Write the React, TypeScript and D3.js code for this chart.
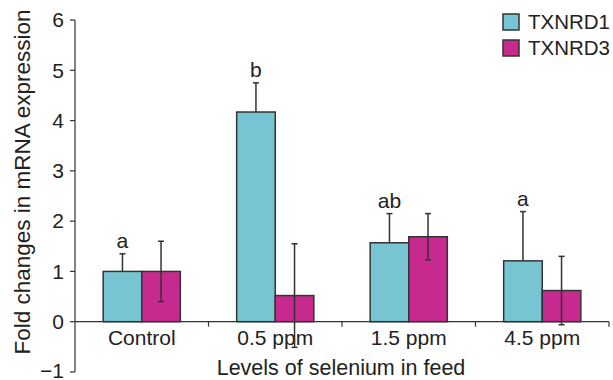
import * as d3 from "d3";

const categories = ["Control", "0.5 ppm", "1.5 ppm", "4.5 ppm"];
const seriesNames = ["TXNRD1", "TXNRD3"];
const txnrd1 = [1.0, 4.17, 1.57, 1.21];
const txnrd1Err = [0.35, 0.58, 0.58, 0.98];
const txnrd3 = [1.0, 0.52, 1.69, 0.62];
const txnrd3Err = [0.6, 1.03, 0.46, 0.68];
const letters = ["a", "b", "ab", "a"];
const yTicks = [-1, 0, 1, 2, 3, 4, 5, 6];

const COLORS = ["#77c5d2", "#c72a8f"];
const INK = "#333";
const FONT = "'Liberation Sans', Arial, sans-serif";

export default function App() {
  const width = 613;
  const height = 380;

  const y = d3.scaleLinear().domain([-1, 6]).range([372, 20]);
  const x = d3.scaleBand<string>().domain(categories).range([75, 609]).padding(0);
  const inner = d3
    .scaleBand<string>()
    .domain(seriesNames)
    .range([0, x.bandwidth()])
    .paddingInner(0)
    .paddingOuter(0.73);

  const values = [txnrd1, txnrd3];
  const errors = [txnrd1Err, txnrd3Err];
  const y0 = y(0);
  const cap = 3;

  return (
    <div style={{ position: "fixed", left: 0, top: 0 }}>
      <svg width={width} height={height} fontFamily={FONT} style={{ display: "block", background: "#fff" }}>
        {/* y axis */}
        <line x1={75} x2={75} y1={y(6)} y2={y(-1)} stroke={INK} strokeWidth={1.2} />
        {yTicks.map((t) => (
          <g key={t}>
            <line x1={70} x2={75} y1={y(t)} y2={y(t)} stroke={INK} strokeWidth={1.2} />
            <text x={64} y={y(t)} dy={t < 0 ? "0.3em" : "0.35em"} textAnchor="end" fontSize={21} fill="#222">
              {t < 0 ? `\u2212${Math.abs(t)}` : t}
            </text>
          </g>
        ))}
        <text
          transform={`translate(30,182) rotate(-90)`}
          textAnchor="middle"
          fontSize={22.5}
          fill="#222"
        >
          Fold changes in mRNA expression
        </text>

        {/* bars */}
        {categories.map((c, i) => (
          <g key={c}>
            {seriesNames.map((s, k) => {
              const bx = (x(c) ?? 0) + (inner(s) ?? 0);
              const v = values[k][i];
              return (
                <rect
                  key={s}
                  x={bx}
                  y={y(v)}
                  width={inner.bandwidth()}
                  height={y0 - y(v)}
                  fill={COLORS[k]}
                  stroke={INK}
                  strokeWidth={1.5}
                />
              );
            })}
          </g>
        ))}

        {/* x axis */}
        <line x1={75} x2={609} y1={y0} y2={y0} stroke={INK} strokeWidth={1.2} />
        {categories.map((c) => {
          const tx = (x(c) ?? 0) + x.bandwidth();
          return <line key={c} x1={tx} x2={tx} y1={y0} y2={y0 + 5} stroke={INK} strokeWidth={1.2} />;
        })}
        {categories.map((c) => (
          <text
            key={c}
            x={(x(c) ?? 0) + x.bandwidth() / 2}
            y={345}
            textAnchor="middle"
            fontSize={21}
            fill="#222"
          >
            {c}
          </text>
        ))}
        <text x={341} y={375} textAnchor="middle" fontSize={21.5} fill="#222">
          Levels of selenium in feed
        </text>

        {/* error bars */}
        {categories.map((c, i) =>
          seriesNames.map((s, k) => {
            const cx = (x(c) ?? 0) + (inner(s) ?? 0) + inner.bandwidth() / 2;
            const v = values[k][i];
            const e = errors[k][i];
            const top = y(v + e);
            const bottom = k === 0 ? y(v) : y(v - e);
            return (
              <g key={c + s} stroke={INK} strokeWidth={1.5}>
                <line x1={cx} x2={cx} y1={top} y2={bottom} />
                <line x1={cx - cap} x2={cx + cap} y1={top} y2={top} />
                {k === 1 && <line x1={cx - cap} x2={cx + cap} y1={bottom} y2={bottom} />}
              </g>
            );
          })
        )}

        {/* significance letters */}
        {categories.map((c, i) => {
          const cx = (x(c) ?? 0) + (inner(seriesNames[0]) ?? 0) + inner.bandwidth() / 2;
          return (
            <text key={c} x={cx} y={y(txnrd1[i] + txnrd1Err[i]) - 6} textAnchor="middle" fontSize={21} fill="#222">
              {letters[i]}
            </text>
          );
        })}

        {/* legend */}
        {seriesNames.map((s, k) => (
          <g key={s} transform={`translate(503,${14 + k * 26})`}>
            <rect x={0} y={0} width={16} height={16} fill={COLORS[k]} stroke={INK} strokeWidth={1.5} />
            <text x={25} y={8} dy="0.36em" fontSize={20.5} fill="#222">
              {s}
            </text>
          </g>
        ))}
      </svg>
    </div>
  );
}
